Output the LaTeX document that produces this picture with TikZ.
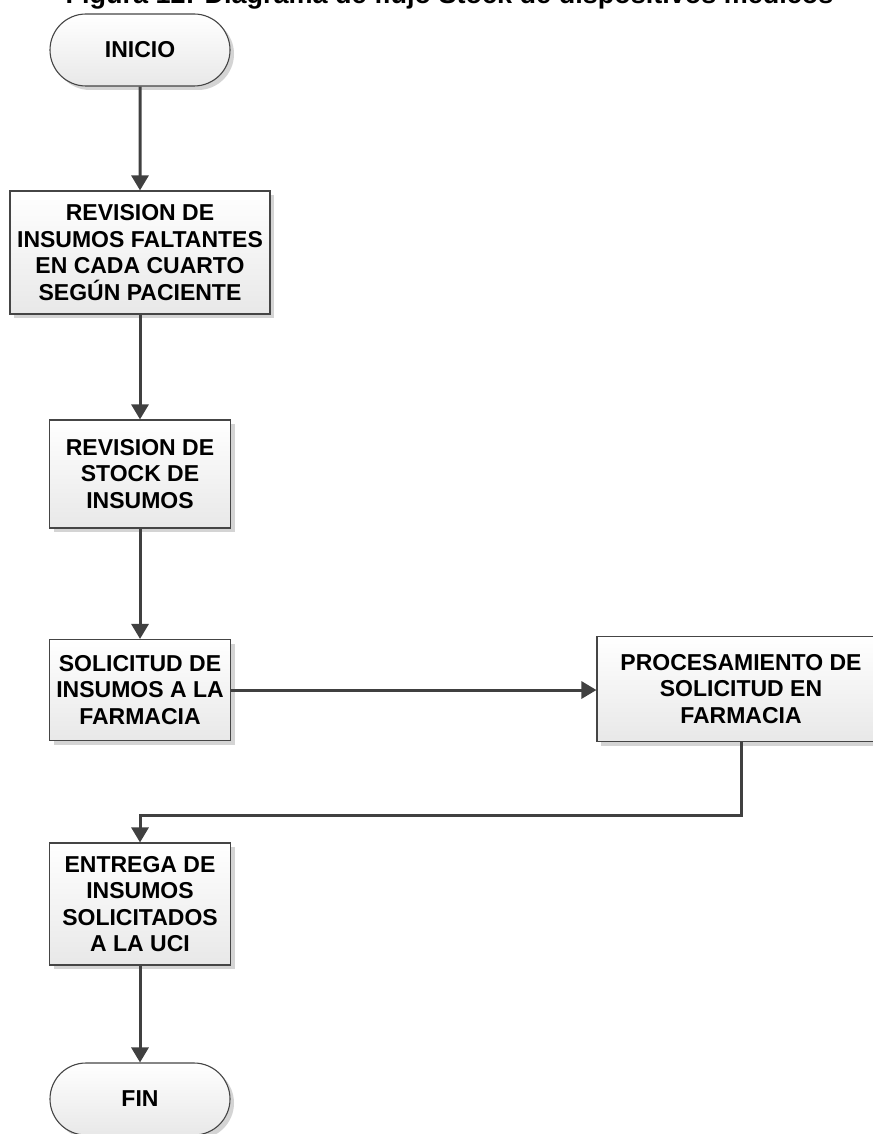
\documentclass[tikz,border=0pt]{standalone}
\usepackage{fontspec}
\setmainfont{Liberation Sans}
\usetikzlibrary{arrows.meta,shapes.misc,shadows}

\definecolor{edge}{HTML}{454545}
\definecolor{wire}{HTML}{404040}

\tikzset{
  shadowed/.style={drop shadow={shadow xshift=4pt, shadow yshift=-4pt, fill=black!17, opacity=1}},
  procbox/.style={draw=edge, line width=1.1pt, top color=white, bottom color=black!9,
    shadowed, align=center, inner sep=0pt,
    font=\fontsize{23}{26.5}\selectfont\bfseries},
  terminal/.style={procbox, rounded rectangle, minimum width=180pt, minimum height=72pt},
  link/.style={draw=wire, line width=3pt, -{Triangle[length=15pt,width=17pt]}},
}

\begin{document}
\begin{tikzpicture}[x=1pt,y=-1pt]
\useasboundingbox (0,0) rectangle (872,1134);

% caption
\node[anchor=base, inner sep=0pt, font=\fontsize{27}{30}\selectfont\bfseries] (title) at (449.5,4)
  {Figura 12: Diagrama de flujo Stock de dispositivos médicos};

% flow steps
\node[terminal] (inicio) at (140,50) {INICIO};
\node[procbox, minimum width=260pt, minimum height=123pt] (revfalt) at (140,252.5)
  {REVISION DE\\INSUMOS FALTANTES\\EN CADA CUARTO\\SEGÚN PACIENTE};
\node[procbox, minimum width=181pt, minimum height=108pt] (revstock) at (140,474)
  {REVISION DE\\STOCK DE\\INSUMOS};
\node[procbox, minimum width=181pt, minimum height=101pt] (solic) at (140,690)
  {SOLICITUD DE\\INSUMOS A LA\\FARMACIA};
\node[procbox, minimum width=288pt, minimum height=105pt] (proc) at (741,689)
  {PROCESAMIENTO DE\\SOLICITUD EN\\FARMACIA};
\node[procbox, minimum width=181pt, minimum height=122pt] (entrega) at (140,904)
  {ENTREGA DE\\INSUMOS\\SOLICITADOS\\A LA UCI};
\node[terminal] (fin) at (140,1099) {FIN};

% connectors
\draw[link] (inicio) -- (revfalt);
\draw[link] (revfalt) -- (revstock);
\draw[link] (revstock) -- (solic);
\draw[link] (solic.east) -- (solic.east -| proc.west);
\coordinate (bend) at (741,815);
\draw[link] (proc.south) -- (bend) -| (entrega.north);
\draw[link] (entrega) -- (fin);
\end{tikzpicture}
\end{document}
